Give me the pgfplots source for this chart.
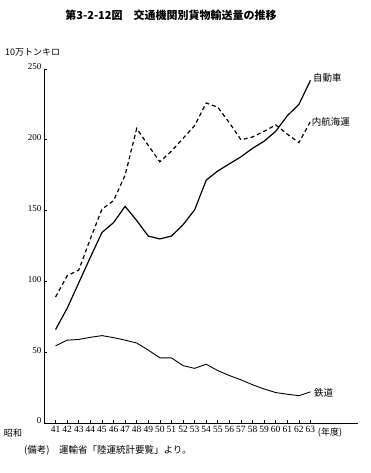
\documentclass[border=0pt]{standalone}
\usepackage{fontspec}
\setmainfont{Liberation Serif}
\newfontfamily\cjk{Noto Sans CJK JP}
\usepackage{pgfplots}
\pgfplotsset{compat=1.18}
\begin{document}
\begin{tikzpicture}[x=1pt,y=1pt]
\path[use as bounding box] (0,0) rectangle (370,473);
\begin{axis}[
  anchor=south west, at={(44pt,50pt)},
  width=314pt, height=354pt, scale only axis,
  xmin=40, xmax=67.1, ymin=0, ymax=250,
  axis x line=bottom, axis y line=left,
  axis line style={-, line width=0.9pt},
  xtick={41,...,63},
  ytick={0,50,100,150,200,250},
  tick align=inside, major tick length=3pt,
  tick style={line width=0.7pt, black},
  x tick label style={font=\fontsize{9.5}{10}\selectfont, yshift=0pt},
  y tick label style={font=\fontsize{9}{10}\selectfont, xshift=1pt,yshift=2pt},
  /pgf/number format/assume math mode=true,
  clip=false,
]
\addplot[black, line width=1.2pt] coordinates {
(41,66) (42,81) (43,99) (44,117) (45,134.5) (46,141.5) (47,153) (48,143) (49,132) (50,130)
(51,132) (52,140) (53,150.5) (54,171.5) (55,178) (56,183) (57,188) (58,194) (59,199) (60,206)
(61,217) (62,225) (63,242)};
\addplot[black, line width=1.2pt, dash pattern=on 4pt off 3pt] coordinates {
(41,89) (42,104) (43,108) (44,130) (45,151) (46,157) (47,175) (48,208) (49,196) (50,184.5)
(51,192) (52,201) (53,210) (54,226) (55,223) (56,212) (57,200) (58,202) (59,206) (60,210.5)
(61,204) (62,198) (63,213)};
\addplot[black, line width=0.9pt] coordinates {
(41,54.5) (42,58.5) (43,59) (44,60.5) (45,61.7) (46,60.3) (47,58.5) (48,56.5) (49,51.5) (50,46)
(51,46) (52,40.5) (53,38.6) (54,41.5) (55,37) (56,33.5) (57,30.5) (58,27) (59,24) (60,21.5)
(61,20.3) (62,19.3) (63,22)};
\node[anchor=west, font=\cjk\fontsize{9.5}{10}\selectfont, inner sep=0pt] at (axis cs:63.2,243.6) {自動車};
\node[anchor=west, font=\cjk\fontsize{9.5}{10}\selectfont, inner sep=0pt] at (axis cs:63.1,212.6) {内航海運};
\node[anchor=west, font=\cjk\fontsize{9.5}{10}\selectfont, inner sep=0pt] at (axis cs:63.3,21.2) {鉄道};
\end{axis}
\node[font=\cjk\bfseries\fontsize{11}{12}\selectfont] at (171,458) {第3-2-12図\quad 交通機関別貨物輸送量の推移};
\node[anchor=west, font=\cjk\fontsize{9}{10}\selectfont, inner sep=0pt] at (5,421) {10万トンキロ};
\node[font=\cjk\fontsize{9}{10}\selectfont, inner sep=0pt] at (13,40) {昭和};
\node[font=\cjk\fontsize{9}{10}\selectfont, inner sep=0pt] at (330,40) {(年度)};
\node[anchor=west, font=\cjk\fontsize{9.5}{10}\selectfont, inner sep=0pt] at (24,23) {(備考)\quad 運輸省「陸運統計要覧」より。};
\end{tikzpicture}
\end{document}
